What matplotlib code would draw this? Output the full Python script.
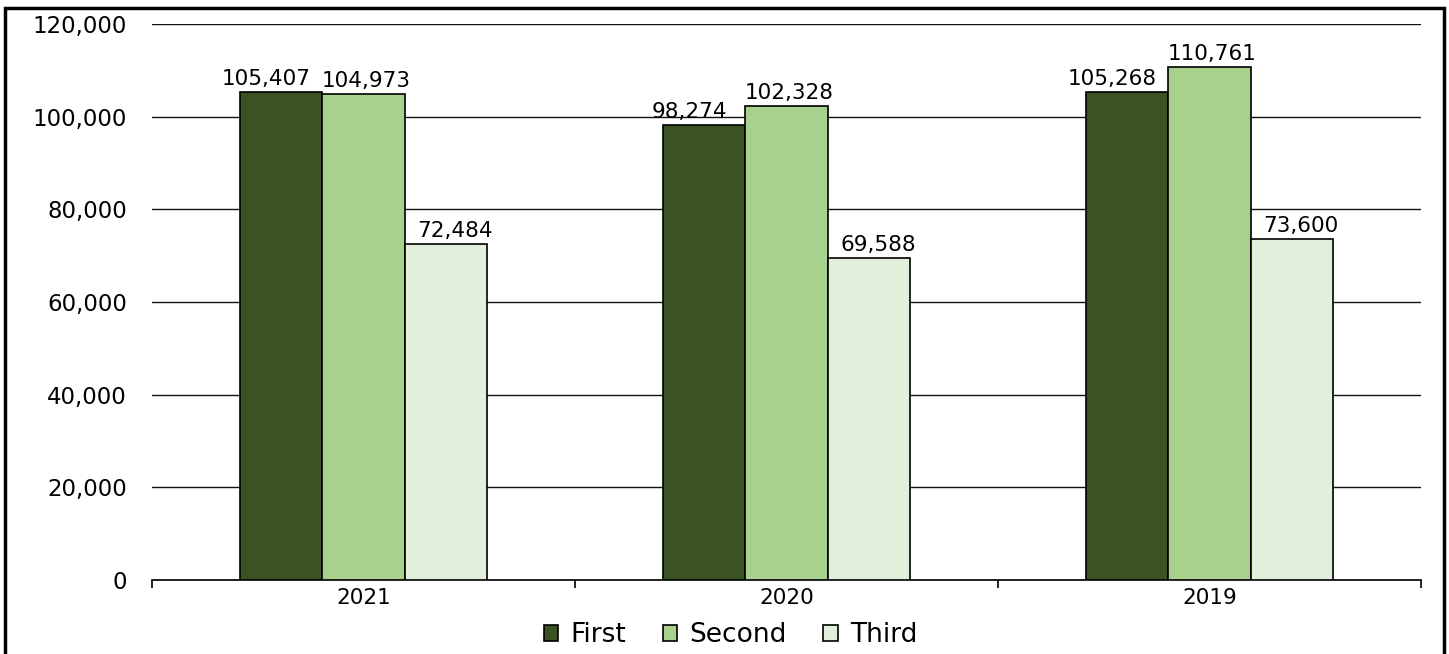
import numpy as np
import matplotlib
matplotlib.use("Agg")
import matplotlib.pyplot as plt
from matplotlib.patches import Rectangle

years = ["2021", "2020", "2019"]
series = ["First", "Second", "Third"]
first = [105407, 98274, 105268]
second = [104973, 102328, 110761]
third = [72484, 69588, 73600]
colors = ["#3B5323", "#A9D18E", "#E2EFDA"]
# horizontal nudge of the value labels per series (points)
label_dx = [-11, 2, 7]

plt.rcParams["font.family"] = ["DejaVu Sans"]

fig = plt.figure(figsize=(14.49, 6.54), dpi=100)
ax = fig.add_axes([0.1049, 0.1131, 0.8758, 0.8502])

x = np.arange(len(years))
w = 0.194
for i, (vals, name, c) in enumerate(zip([first, second, third], series, colors)):
    pos = x + (i - 1) * w
    ax.bar(pos, vals, width=w, color=c, edgecolor="black", linewidth=1.2,
           label=name, zorder=3)
    for px, v in zip(pos, vals):
        ax.annotate("{:,}".format(v), (px, v), xytext=(label_dx[i], 5),
                    textcoords="offset points", ha="center", va="baseline",
                    fontsize=15.5, color="black")

ax.set_xlim(-0.5, 2.5)
ax.set_ylim(0, 120000)
ax.set_yticks(np.arange(0, 120001, 20000))
ax.set_yticklabels(["{:,}".format(v) for v in range(0, 120001, 20000)], fontsize=16.5)
ax.yaxis.grid(True, color="#111111", linewidth=1.0, zorder=0)
ax.tick_params(axis="y", length=0, pad=18)

ax.set_xticks(x)
ax.set_xticklabels(years, fontsize=15.5)
ax.set_xticks([-0.5, 0.5, 1.5, 2.5], minor=True)
ax.tick_params(axis="x", which="major", length=0, pad=6)
ax.tick_params(axis="x", which="minor", length=6, width=1.2, direction="out")

for s in ["left", "right", "top"]:
    ax.spines[s].set_visible(False)
ax.spines["bottom"].set_linewidth(1.2)

fig.legend(loc="center", bbox_to_anchor=(0.504, 0.029), ncol=3, frameon=False,
           prop={"size": 19}, handlelength=0.55, handleheight=0.55,
           handletextpad=0.45, columnspacing=1.4, borderpad=0)

# outer frame around chart
fig.patches.append(Rectangle((5 / 1449, -0.05), 1439 / 1449, 1 - 8 / 654 + 0.05,
                             transform=fig.transFigure, fill=False,
                             edgecolor="black", linewidth=2.5))

fig.savefig("out.png", dpi=100)
